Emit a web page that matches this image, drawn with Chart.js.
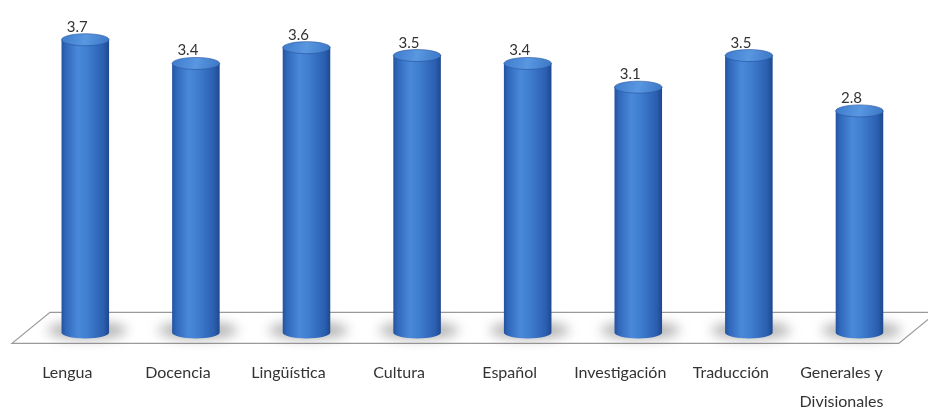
<!DOCTYPE html>
<html>
<head>
<meta charset="utf-8">
<script src="https://cdn.jsdelivr.net/npm/chart.js@4.4.0/dist/chart.umd.min.js"></script>
<style>
  html, body { margin: 0; padding: 0; background: #ffffff; }
  #wrap { width: 928px; height: 408px; }
</style>
</head>
<body>
<div id="wrap"><canvas id="c" width="928" height="408"></canvas></div>
<script>
// Average score by area
const categories = ["Lengua", "Docencia", "Lingüística", "Cultura", "Español", "Investigación", "Traducción", ["Generales y", "Divisionales"]];
const scores = [3.7, 3.4, 3.6, 3.5, 3.4, 3.1, 3.5, 2.8];
const valueLabels = ["3.7", "3.4", "3.6", "3.5", "3.4", "3.1", "3.5", "2.8"];

const FONT = "Lato, 'Open Sans', sans-serif";
const RY = 6; // vertical radius of the cylinder ellipses

// Floor slab drawn beneath the cylinders
const floorPlugin = {
  id: 'floor',
  beforeDatasetsDraw(chart) {
    const { ctx, chartArea } = chart;
    const base = chart.scales.y.getPixelForValue(0);
    const topY = base - 20, botY = base + 11;
    const slant = 38;
    const x0 = chartArea.left - 18;
    const x1 = chartArea.right - 16;
    ctx.save();
    ctx.beginPath();
    ctx.moveTo(x0 + slant, topY);
    ctx.lineTo(x1 + slant, topY);
    ctx.lineTo(x1, botY);
    ctx.lineTo(x0, botY);
    ctx.closePath();
    ctx.fillStyle = '#ffffff';
    ctx.fill();
    ctx.strokeStyle = '#9a9a9a';
    ctx.lineWidth = 1.2;
    ctx.stroke();
    ctx.restore();
  }
};

// Draw each bar as a shaded cylinder with its value above
const cylinderPlugin = {
  id: 'cylinders',
  afterDatasetsDraw(chart) {
    const { ctx } = chart;
    const meta = chart.getDatasetMeta(0);
    meta.data.forEach((bar, i) => {
      const { x, y, base, width } = bar.getProps(['x', 'y', 'base', 'width'], true);
      const rx = width / 2;
      const l = x - rx, r = x + rx;

      // soft shadow on the floor
      ctx.save();
      ctx.filter = 'blur(6px)';
      ctx.fillStyle = 'rgba(90,90,90,0.45)';
      ctx.beginPath();
      ctx.ellipse(x + 2, base - 2, rx + 16, RY + 3, 0, 0, Math.PI * 2);
      ctx.fill();
      ctx.restore();

      // body
      const g = ctx.createLinearGradient(l, 0, r, 0);
      g.addColorStop(0, '#23529e');
      g.addColorStop(0.08, '#2f66b8');
      g.addColorStop(0.35, '#4a89da');
      g.addColorStop(0.55, '#3f7dcf');
      g.addColorStop(0.88, '#2b5fb0');
      g.addColorStop(1, '#1e488e');
      ctx.save();
      ctx.beginPath();
      ctx.moveTo(l, y);
      ctx.lineTo(l, base);
      ctx.ellipse(x, base, rx, RY, 0, Math.PI, 0, true);
      ctx.lineTo(r, y);
      ctx.closePath();
      ctx.fillStyle = g;
      ctx.fill();

      // top cap
      const tg = ctx.createLinearGradient(l, y - RY, r, y + RY);
      tg.addColorStop(0, '#3d7bcc');
      tg.addColorStop(0.5, '#5a97e1');
      tg.addColorStop(1, '#3a76c4');
      ctx.beginPath();
      ctx.ellipse(x, y, rx, RY, 0, 0, Math.PI * 2);
      ctx.fillStyle = tg;
      ctx.fill();
      ctx.strokeStyle = 'rgba(40,85,160,0.8)';
      ctx.lineWidth = 0.8;
      ctx.stroke();

      // value label
      ctx.fillStyle = '#333333';
      ctx.font = '15px ' + FONT;
      ctx.textAlign = 'center';
      ctx.textBaseline = 'alphabetic';
      ctx.fillText(valueLabels[i], x - 8, y - RY - 2);
      ctx.restore();
    });
  }
};

new Chart(document.getElementById('c'), {
  type: 'bar',
  data: {
    labels: categories,
    datasets: [{
      data: scores,
      backgroundColor: 'rgba(0,0,0,0)',
      borderWidth: 0,
      barPercentage: 0.86,
      categoryPercentage: 0.5
    }]
  },
  options: {
    responsive: false,
    animation: false,
    layout: { padding: { left: 30, right: 10, top: 16, bottom: -34 } },
    plugins: { legend: { display: false }, tooltip: { enabled: false } },
    scales: {
      y: { display: false, min: 0, max: 4 },
      x: {
        grid: { display: false, drawTicks: false },
        border: { display: false },
        ticks: {
          color: '#333333',
          font: { family: FONT, size: 16, lineHeight: 1.8 },
          padding: 26,
          labelOffset: -18,
          maxRotation: 0,
          autoSkip: false
        }
      }
    }
  },
  plugins: [floorPlugin, cylinderPlugin]
});
</script>
</body>
</html>
